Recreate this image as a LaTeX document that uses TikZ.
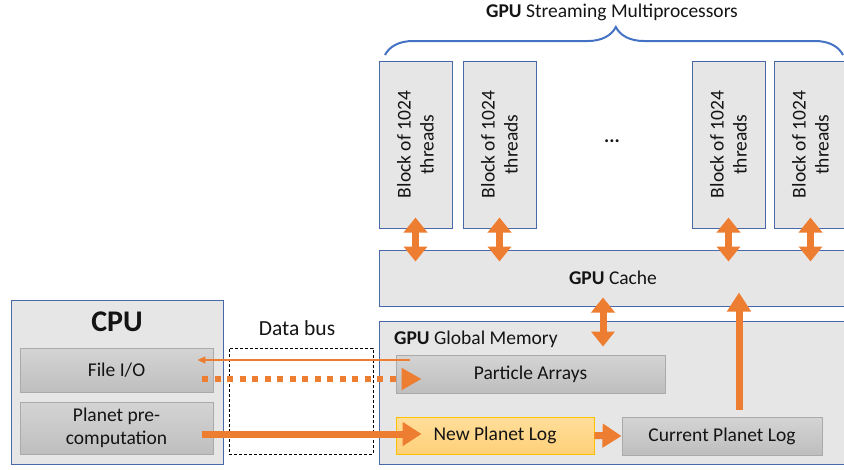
\documentclass[tikz,border=0pt]{standalone}
\usepackage{fontspec}
\setmainfont{Carlito}
\usetikzlibrary{arrows.meta,decorations.pathreplacing,calc}

\definecolor{boxfill}{RGB}{231,230,230}
\definecolor{boxline}{RGB}{72,104,170}
\definecolor{accent}{RGB}{237,125,49}
\definecolor{bracecol}{RGB}{68,114,196}
\definecolor{txt}{RGB}{20,20,20}
\definecolor{subline}{RGB}{170,170,170}
\definecolor{subtop}{RGB}{212,212,212}
\definecolor{subbot}{RGB}{190,190,190}
\definecolor{newtop}{RGB}{255,222,155}
\definecolor{newbot}{RGB}{255,208,120}
\definecolor{newline}{RGB}{255,192,0}

\begin{document}
\begin{tikzpicture}[x=1pt,y=-1pt,
  font=\fontsize{19.5}{23}\selectfont, text=txt,
  panel/.style={draw=boxline, line width=1pt, fill=boxfill, inner sep=0pt},
  subbox/.style={draw=subline, line width=0.9pt, top color=subtop, bottom color=subbot, inner sep=0pt},
  newbox/.style={draw=newline, line width=0.9pt, top color=newtop, bottom color=newbot, inner sep=0pt},
  busbox/.style={draw=black, line width=0.9pt, dash pattern=on 3pt off 2pt},
  blockbox/.style={panel, minimum width=73pt, minimum height=167pt},
  blocktext/.style={rotate=90, align=center, inner sep=0pt},
  twoway/.style={draw=accent, line width=7pt,
    {Triangle[width=23pt,length=15pt]}-{Triangle[width=23pt,length=15pt]}},
  fatarrow/.style={draw=accent, line width=7pt, -{Triangle[width=23pt,length=19pt]}},
  dotarrow/.style={draw=accent, line width=6pt, dash pattern=on 6pt off 6.5pt,
    -{Triangle[width=21pt,length=20pt]}},
  thinarrow/.style={draw=accent, line width=1.5pt, -{Triangle[width=7pt,length=8pt]}}
]
\useasboundingbox (0,0) rectangle (844,469);

% streaming multiprocessors
\node (title) at (612,12) {\textbf{GPU} Streaming Multiprocessors};
\draw[bracecol, line width=2pt, decorate,
      decoration={brace, amplitude=28pt, aspect=0.504}] (385,55) -- (843,55);

\node[blockbox] (b1) at (415.5,144.5) {};
\node[blockbox] (b2) at (499.5,144.5) {};
\node[blockbox] (b3) at (728.5,144.5) {};
\node[blockbox] (b4) at (810.5,144.5) {};
\foreach \b in {b1,b2,b3,b4}
  \node[blocktext] (\b t) at (\b.center) {Block of 1024\\threads};
\node (dots) at (612,141) {\textbf{...}};

% cache and global memory
\node[panel, minimum width=468pt, minimum height=56pt] (cache) at (613,278)
  {\textbf{GPU} Cache};
\node[panel, minimum width=468pt, minimum height=143pt] (mem) at (613,392.5) {};
\node[anchor=west, inner sep=0pt] (memlabel) at (394,339) {\textbf{GPU} Global Memory};
\node[subbox, minimum width=269pt, minimum height=38pt] (pa) at (530.5,374) {Particle Arrays};
\node[newbox, minimum width=198pt, minimum height=37pt] (new) at (495,435.5) {New Planet Log};
\node[subbox, minimum width=200pt, minimum height=38pt] (cur) at (722,436) {Current Planet Log};

% host side
\node[panel, minimum width=212pt, minimum height=164pt] (cpu) at (117,382) {};
\node[font=\fontsize{30}{34}\selectfont\bfseries] (cpulabel) at (117,322) {CPU};
\node[subbox, minimum width=193pt, minimum height=44pt] (fio) at (116.5,370) {File I/O};
\node[subbox, minimum width=193pt, minimum height=52pt, align=center] (ppc) at (116.5,428)
  {Planet pre-\\computation};

% data bus
\node[busbox, minimum width=144pt, minimum height=106pt] (bus) at (301,401) {};
\node[font=\fontsize{21.5}{25}\selectfont] (buslabel) at (297,328) {Data bus};

% transfer levels across the bus
\coordinate (thinY) at (0,360);
\coordinate (dotY) at (0,379);
\coordinate (solidY) at (0,434);

% block <-> cache
\foreach \b in {b1,b2,b3,b4}
  \draw[twoway] ($(\b.south)+(0,-11)$) -- ($(\b.south |- cache.north)+(0,12)$);

% cache <-> global memory
\draw[twoway] ($(cache.south)+(-10,-9)$) -- ($(mem.north)+(-10,26)$);

% planet logs
\draw[fatarrow] (new.east) -- (cur.west);
\draw[fatarrow] ($(cur.north)+(17,-7)$) -- ($(cur.north |- cache.south)+(17,-14)$);

% host <-> device transfers
\draw[thinarrow] ($(pa.west |- thinY)+(14,0)$) -- ($(fio.east |- thinY)+(-16,0)$);
\draw[dotarrow] ($(fio.east |- dotY)+(-11,0)$) -- ($(pa.west |- dotY)+(26,0)$);
\draw[fatarrow] ($(ppc.east |- solidY)+(-11,0)$) -- ($(new.west |- solidY)+(26,0)$);
\end{tikzpicture}
\end{document}
